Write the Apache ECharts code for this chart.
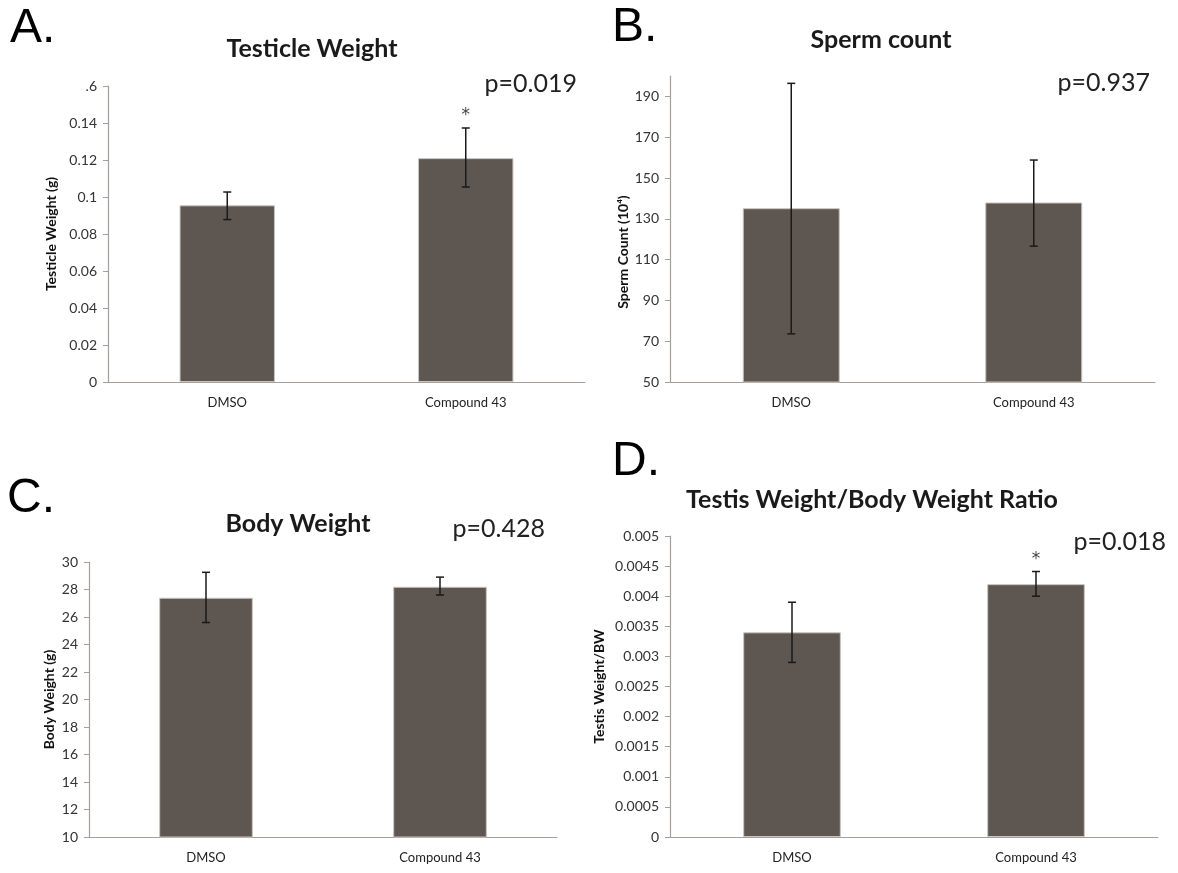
<!DOCTYPE html>
<html><head><meta charset="utf-8">
<script src="https://cdn.jsdelivr.net/npm/echarts@6/dist/echarts.min.js"></script>
<style>html,body{margin:0;padding:0;background:#fff}#c{width:1178px;height:873px}</style>
</head><body><div id="c"></div>
<script>
// ---------- DATA ----------
const categories = ['DMSO', 'Compound 43'];

// A. Testicle Weight
const testicleMean = [0.0955, 0.1210];
const testicleLow  = [0.0878, 0.1054];
const testicleHigh = [0.1027, 0.1373];
const testicleSig  = ['', '*'];
const testicleTickValues = [0, 0.02, 0.04, 0.06, 0.08, 0.1, 0.12, 0.14, 0.16];
const testicleTickLabels = ['0', '0.02', '0.04', '0.06', '0.08', '0.1', '0.12', '0.14', '.6'];

// B. Sperm count
const spermMean = [135.2, 138.0];
const spermLow  = [73.6, 116.6];
const spermHigh = [196.4, 158.8];
const spermSig  = ['', ''];
const spermTickValues = [50, 70, 90, 110, 130, 150, 170, 190];
const spermTickLabels = ['50', '70', '90', '110', '130', '150', '170', '190'];

// C. Body Weight
const bodyMean = [27.4, 28.2];
const bodyLow  = [25.6, 27.6];
const bodyHigh = [29.25, 28.9];
const bodySig  = ['', ''];
const bodyTickValues = [10, 12, 14, 16, 18, 20, 22, 24, 26, 28, 30];
const bodyTickLabels = ['10', '12', '14', '16', '18', '20', '22', '24', '26', '28', '30'];

// D. Testis Weight / Body Weight Ratio
const ratioMean = [0.00340, 0.00420];
const ratioLow  = [0.00290, 0.00400];
const ratioHigh = [0.00390, 0.00441];
const ratioSig  = ['', '*'];
const ratioTickValues = [0, 0.0005, 0.001, 0.0015, 0.002, 0.0025, 0.003, 0.0035, 0.004, 0.0045, 0.005];
const ratioTickLabels = ['0', '0.0005', '0.001', '0.0015', '0.002', '0.0025', '0.003', '0.0035', '0.004', '0.0045', '0.005'];

// ---------- LAYOUT ----------
const panels = [
  { letter: 'A.', title: 'Testicle Weight', p: 'p=0.019', yName: 'Testicle Weight (g)',
    mean: testicleMean, low: testicleLow, high: testicleHigh, sig: testicleSig,
    tv: testicleTickValues, tl: testicleTickLabels, min: 0, max: 0.16, interval: 0.02,
    grid: { left: 108, top: 86, width: 477, height: 296 }, nameGap: 50, namePad: 0,
    letterPos: [10, 29], titlePos: [312, 49], pPos: [577, 84] },
  { letter: 'B.', title: 'Sperm count', p: 'p=0.937', yName: 'Sperm Count (10\u2074)',
    mean: spermMean, low: spermLow, high: spermHigh, sig: spermSig,
    tv: spermTickValues, tl: spermTickLabels, min: 50, max: 200, interval: 10,
    grid: { left: 670, top: 76, width: 485, height: 306 }, nameGap: 40, namePad: 46,
    letterPos: [612, 28], titlePos: [881, 40], pPos: [1150, 83] },
  { letter: 'C.', title: 'Body Weight', p: 'p=0.428', yName: 'Body Weight (g)',
    mean: bodyMean, low: bodyLow, high: bodyHigh, sig: bodySig,
    tv: bodyTickValues, tl: bodyTickLabels, min: 10, max: 30, interval: 2,
    grid: { left: 89, top: 562, width: 468, height: 275 }, nameGap: 33, namePad: 0,
    letterPos: [7, 499], titlePos: [298, 524], pPos: [545, 529] },
  { letter: 'D.', title: 'Testis Weight/Body Weight Ratio', p: 'p=0.018', yName: 'Testis Weight/BW',
    mean: ratioMean, low: ratioLow, high: ratioHigh, sig: ratioSig,
    tv: ratioTickValues, tl: ratioTickLabels, min: 0, max: 0.005, interval: 0.0005,
    grid: { left: 670, top: 536, width: 488, height: 301 }, nameGap: 64, namePad: 0,
    letterPos: [612, 462], titlePos: [872, 500], pPos: [1166, 542] }
];

const FONT = 'Lato, "Open Sans", sans-serif';
const AXIS_COLOR = '#a69f99';
const BAR_COLOR = '#5d5651';

function labelFor(p, v) {
  let best = 0, bd = Infinity;
  p.tv.forEach((t, i) => { const d = Math.abs(t - v); if (d < bd) { bd = d; best = i; } });
  return bd < p.interval * 0.01 ? p.tl[best] : '';
}

const option = {
  backgroundColor: '#fff',
  animation: false,
  grid: [], xAxis: [], yAxis: [], series: [], graphic: []
};

panels.forEach((p, k) => {
  option.grid.push(Object.assign({ containLabel: false }, p.grid));
  option.xAxis.push({
    type: 'category', gridIndex: k, data: categories,
    axisLine: { show: true, lineStyle: { color: AXIS_COLOR, width: 1.2 } },
    axisTick: { show: false },
    axisLabel: { color: '#222', fontFamily: FONT, fontSize: 13, margin: 14 }
  });
  option.yAxis.push({
    type: 'value', gridIndex: k, min: p.min, max: p.max, interval: p.interval,
    name: p.yName, nameLocation: 'middle', nameGap: p.nameGap, nameRotate: 90,
    nameTextStyle: { fontFamily: FONT, fontWeight: 'bold', fontSize: 14, color: '#111',
                     padding: [0, p.namePad, 0, 0] },
    axisLine: { show: true, lineStyle: { color: AXIS_COLOR, width: 1.2 } },
    axisTick: { show: true, length: 5, lineStyle: { color: AXIS_COLOR }, customValues: p.tv },
    axisLabel: { color: '#333', fontFamily: FONT, fontSize: 14, margin: 11, customValues: p.tv,
                 formatter: v => labelFor(p, v) },
    splitLine: { show: false }
  });
  option.series.push({
    type: 'bar', xAxisIndex: k, yAxisIndex: k, data: p.mean, barWidth: '40%', z: 2,
    itemStyle: { color: BAR_COLOR, borderColor: '#c9c4bf', borderWidth: 1 },
    silent: true
  });
  option.series.push({
    type: 'custom', xAxisIndex: k, yAxisIndex: k, silent: true, clip: false, z: 10,
    data: categories.map((c, i) => [i, p.low[i], p.high[i]]),
    encode: { x: 0, y: [1, 2] },
    renderItem: function (params, api) {
      const i = api.value(0);
      const lo = api.coord([i, api.value(1)]);
      const hi = api.coord([i, api.value(2)]);
      const half = 4;
      const st = { stroke: '#1a1a1a', lineWidth: 1.5 };
      const children = [
        { type: 'line', shape: { x1: lo[0], y1: lo[1], x2: hi[0], y2: hi[1] }, style: st },
        { type: 'line', shape: { x1: lo[0] - half, y1: lo[1], x2: lo[0] + half, y2: lo[1] }, style: st },
        { type: 'line', shape: { x1: hi[0] - half, y1: hi[1], x2: hi[0] + half, y2: hi[1] }, style: st }
      ];
      if (p.sig[i]) {
        children.push({ type: 'text', style: { text: p.sig[i], x: hi[0], y: hi[1] - 12,
          align: 'center', verticalAlign: 'middle', fill: '#444',
          font: '17px "DejaVu Sans", sans-serif' } });
      }
      return { type: 'group', children: children };
    }
  });
  option.graphic.push(
    { type: 'text', x: p.letterPos[0], y: p.letterPos[1],
      style: { text: p.letter, font: '48px "Liberation Sans", Arial, sans-serif', fill: '#000',
               align: 'left', verticalAlign: 'middle' } },
    { type: 'text', x: p.titlePos[0], y: p.titlePos[1],
      style: { text: p.title, font: 'bold 25px ' + FONT, fill: '#1a1a1a',
               align: 'center', verticalAlign: 'middle' } },
    { type: 'text', x: p.pPos[0], y: p.pPos[1],
      style: { text: p.p, font: '25px ' + FONT, fill: '#222',
               align: 'right', verticalAlign: 'middle' } }
  );
});

const chart = echarts.init(document.getElementById('c'), null, { renderer: 'canvas' });
chart.setOption(option);
</script>
</body></html>
